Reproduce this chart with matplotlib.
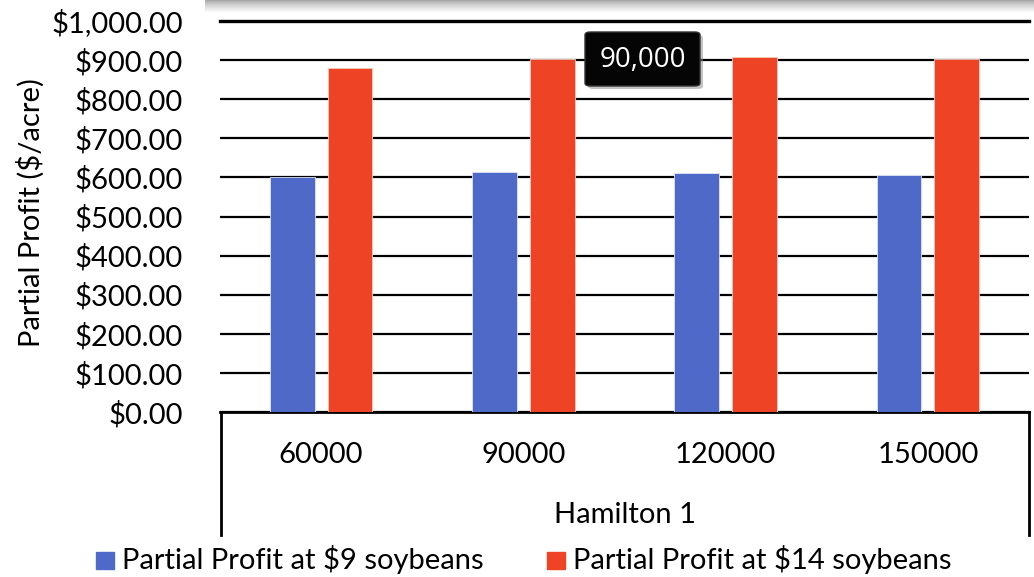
import matplotlib
matplotlib.use("Agg")
import matplotlib.pyplot as plt
import numpy as np
from matplotlib.lines import Line2D
from matplotlib.patches import FancyBboxPatch, Rectangle
from matplotlib.ticker import FuncFormatter

categories = ["60000", "90000", "120000", "150000"]
group_label = "Hamilton 1"
series_names = ["Partial Profit at $9 soybeans", "Partial Profit at $14 soybeans"]
profit_9 = [600, 613, 610, 605]
profit_14 = [879, 902, 907, 904]
y_ticks = [0, 100, 200, 300, 400, 500, 600, 700, 800, 900, 1000]
tooltip_text = "90,000"

BLUE = "#4F69C9"
RED = "#EF4326"
FS = 21

W, H = 1034, 577
fig = plt.figure(figsize=(W / 100, H / 100), dpi=100)
plt.rcParams["font.family"] = ["Lato", "DejaVu Sans"]


def fx(x):
    return x / W


def fy(y):
    return 1 - y / H


ax_left, ax_right, ax_top, ax_bot = 220, 1029, 21, 412
ax = fig.add_axes([fx(ax_left), fy(ax_bot), fx(ax_right - ax_left), (ax_bot - ax_top) / H])

x = np.arange(len(categories))
bw = 0.222
off = 0.143
ax.bar(x - off, profit_9, width=bw, color=BLUE, edgecolor="#dfe3f5", linewidth=0.6, zorder=3,
       label=series_names[0])
ax.bar(x + off, profit_14, width=bw, color=RED, edgecolor="#f7c9bd", linewidth=0.6, zorder=3,
       label=series_names[1])

ax.set_xlim(-0.5, len(categories) - 0.5)
ax.set_ylim(0, 1000)
ax.set_yticks(y_ticks)
ax.yaxis.set_major_formatter(FuncFormatter(lambda v, p: "${:,.2f}".format(v)))
ax.tick_params(axis="y", length=0, pad=26.5, labelsize=FS, colors="black")
ax.set_xticks([])
for s in ["left", "right", "top"]:
    ax.spines[s].set_visible(False)
ax.spines["bottom"].set_linewidth(2)
ax.spines["bottom"].set_color("black")
ax.yaxis.grid(True, color="black", linewidth=1.6, zorder=0)
ax.set_axisbelow(True)
ax.axhline(1000, color="black", linewidth=2.4, zorder=1, clip_on=False)

ax.set_ylabel("Partial Profit ($/acre)", fontsize=FS)
ax.yaxis.set_label_coords((45 - ax_left) / (ax_right - ax_left), 0.51)

# multi-level category axis box
for xx in [ax_left + 1, ax_right]:
    fig.add_artist(Line2D([fx(xx), fx(xx)], [fy(ax_bot), fy(535)], color="black", linewidth=2))
for i, c in enumerate(categories):
    xd = ax.transData.transform((i, 0))[0]
    fig.text(xd / W, fy(455), c, ha="center", va="center", fontsize=FS)
fig.text(fx((ax_left + ax_right) / 2), fy(515), group_label, ha="center", va="center", fontsize=FS)

# legend
leg_items = [(96, series_names[0], BLUE), (547, series_names[1], RED)]
for lx, name, col in leg_items:
    fig.add_artist(Rectangle((fx(lx), fy(569)), fx(18), 17 / H, color=col))
    fig.text(fx(lx + 26), fy(559), name, ha="left", va="center", fontsize=FS)

# gray shadow strip at top (cut-off title box)
nrows = 13
for i in range(nrows):
    g = 0.66 + 0.34 * (i / (nrows - 1)) ** 0.8
    fig.add_artist(Rectangle((fx(205), fy(i + 1)), fx(829), 1.05 / H, transform=fig.transFigure,
                             facecolor=(g, g, g), edgecolor="none"))

# tooltip
bx0, by0, bx1, by1 = 585, 32, 700, 86
shadow = FancyBboxPatch((fx(bx0 + 3), fy(by1 + 3)), fx(bx1 - bx0), (by1 - by0) / H,
                        boxstyle="round,pad=0,rounding_size=0.005", transform=fig.transFigure,
                        facecolor="#888888", edgecolor="none", alpha=0.5, zorder=9)
fig.add_artist(shadow)
box = FancyBboxPatch((fx(bx0), fy(by1)), fx(bx1 - bx0), (by1 - by0) / H,
                     boxstyle="round,pad=0,rounding_size=0.005", transform=fig.transFigure,
                     facecolor="#050505", edgecolor="#333333", linewidth=1, zorder=10)
fig.add_artist(box)
fig.text(fx((bx0 + bx1) / 2), fy((by0 + by1) / 2 + 1), tooltip_text, ha="center", va="center",
         fontsize=20, color="white", family=["Open Sans", "DejaVu Sans"], zorder=11)

fig.savefig("out.png", dpi=100)
